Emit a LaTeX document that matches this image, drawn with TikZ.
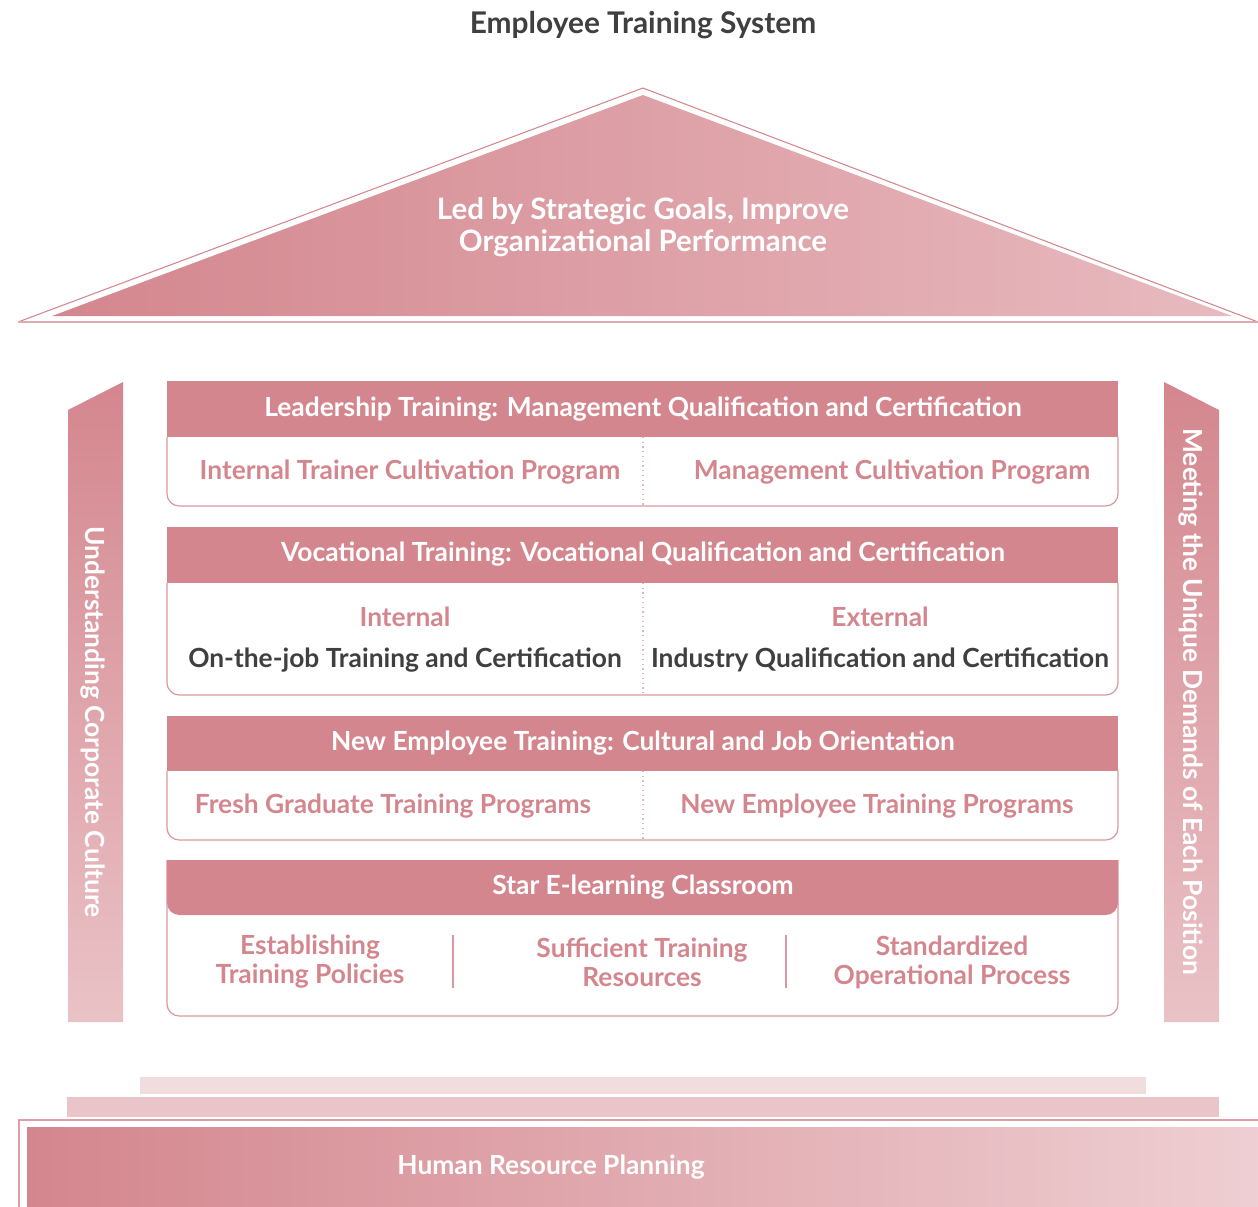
\documentclass[tikz,border=0pt]{standalone}
\usepackage{fontspec}
\setmainfont{Lato}
\definecolor{rose}{HTML}{D4868E}
\definecolor{roselight}{HTML}{E7BABF}
\definecolor{rosepale}{HTML}{F1DCDE}
\definecolor{rosestep}{HTML}{E9C4C8}
\definecolor{txtdark}{HTML}{3F3F3F}
\tikzset{
  basefont/.style={font=\fontsize{15}{16.5}\selectfont\bfseries},
  hdrtxt/.style={basefont,text=white},
  celltxt/.style={basefont,text=rose,align=center},
  darktxt/.style={basefont,text=txtdark,align=center},
  bodyline/.style={draw=rose!85,line width=0.7pt,rounded corners=7pt},
  divline/.style={draw=rose!60,line width=0.7pt,dotted},
}
\begin{document}
\begin{tikzpicture}[x=0.02cm,y=-0.02cm]
\useasboundingbox (0,0) rectangle (1258,1207);
%Заголовок
\node[text=txtdark,font=\fontsize{17}{19}\selectfont\bfseries] (title) at (643,25) {Employee Training System};
%Крыша
\draw[rose,line width=0.6pt] (18,322) -- (643,88) -- (1258,322);
\draw[rose!70,line width=1pt] (18,322) -- (1258,322);
\shade[left color=rose,middle color=rose!92!roselight,right color=roselight] (52,316) -- (643,95) -- (1232,316) -- cycle;
\node[hdrtxt,align=center,font=\fontsize{16.8}{18.3}\selectfont\bfseries] (goal) at (643,227) {Led by Strategic Goals, Improve\\Organizational Performance};
%Колонны
\shade[top color=rose,bottom color=rose!50!white] (68,410) -- (123,382) -- (123,1022) -- (68,1022) -- cycle;
\shade[top color=rose,bottom color=rose!50!white] (1164,382) -- (1219,410) -- (1219,1022) -- (1164,1022) -- cycle;
\node[hdrtxt,rotate=-90] (culture) at (93,722) {Understanding Corporate Culture};
\node[hdrtxt,rotate=-90] (demand) at (1191,702) {Meeting the Unique Demands of Each Position};
%Блок 1
\draw[bodyline] (167,437) -- (167,506) -- (1118,506) -- (1118,437);
\fill[rose] (167,381) rectangle (1118,437);
\draw[divline] (643,437) -- (643,506);
\node[hdrtxt] (lead) at (643,409) {Leadership Training: Management Qualification and Certification};
\node[celltxt] (trainer) at (410,472) {Internal Trainer Cultivation Program};
\node[celltxt] (manage) at (892,472) {Management Cultivation Program};
%Блок 2
\draw[bodyline] (167,583) -- (167,695) -- (1118,695) -- (1118,583);
\fill[rose] (167,527) rectangle (1118,583);
\draw[divline] (643,583) -- (643,695);
\node[hdrtxt] (voc) at (643,554) {Vocational Training: Vocational Qualification and Certification};
\node[celltxt] (intern) at (405,617) {Internal};
\node[darktxt] (onjob) at (405,660) {On-the-job Training and Certification};
\node[celltxt] (extern) at (880,617) {External};
\node[darktxt] (industry) at (880,660) {Industry Qualification and Certification};
%Блок 3
\draw[bodyline] (167,771) -- (167,840) -- (1118,840) -- (1118,771);
\fill[rose] (167,716) rectangle (1118,771);
\draw[divline] (643,771) -- (643,840);
\node[hdrtxt] (newemp) at (643,743) {New Employee Training: Cultural and Job Orientation};
\node[celltxt] (fresh) at (393,806) {Fresh Graduate Training Programs};
\node[celltxt] (newprog) at (877,806) {New Employee Training Programs};
%Блок 4
\draw[bodyline] (167,860) -- (167,1016) -- (1118,1016) -- (1118,860);
\fill[rose,rounded corners=7pt] (167,860) rectangle (1118,915);
\fill[rose] (167,860) rectangle (1118,890);
\draw[rose!85,line width=0.7pt] (453,935) -- (453,988);
\draw[rose!85,line width=0.7pt] (786,935) -- (786,988);
\node[hdrtxt] (star) at (643,887) {Star E-learning Classroom};
\node[celltxt] (policy) at (310,962) {Establishing\\Training Policies};
\node[celltxt] (resource) at (642,962) {Sufficient Training\\Resources};
\node[celltxt] (process) at (952,962) {Standardized\\Operational Process};
%Основание
\fill[rosepale] (140,1077) rectangle (1146,1094);
\fill[rosestep] (67,1097) rectangle (1219,1117);
\draw[rose!80,line width=0.6pt] (19,1215) -- (19,1120) -- (1270,1120);
\shade[left color=rose,right color=rose!40!white] (27,1127) rectangle (1258,1207);
\node[hdrtxt] (hrp) at (551,1167) {Human Resource Planning};
\end{tikzpicture}
\end{document}
